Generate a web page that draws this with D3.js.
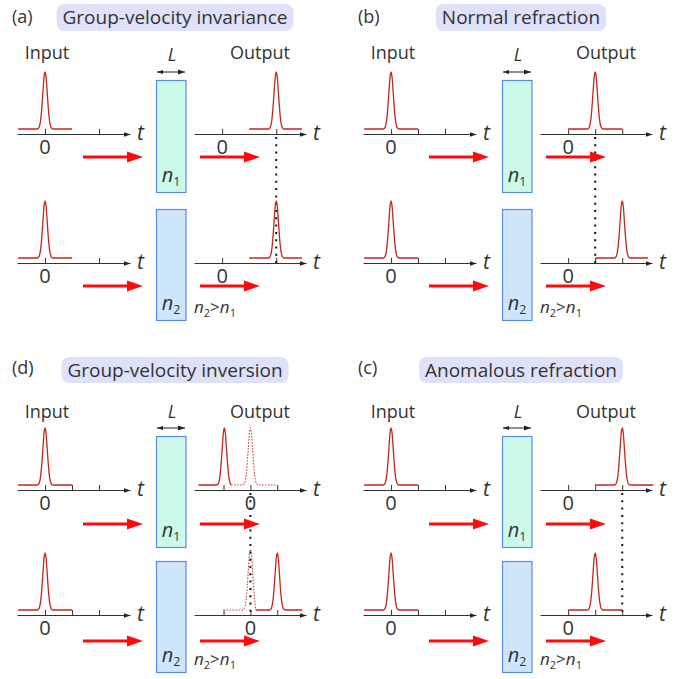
<!DOCTYPE html>
<html>
<head>
<meta charset="utf-8">
<script src="https://cdn.jsdelivr.net/npm/d3@7"></script>
<style>
  body { margin: 0; background: #fff; }
  text { font-family: "Open Sans", "Noto Sans", sans-serif; fill: #333; }
</style>
</head>
<body>
<script>
// ---- data ----
const panelIds = ["a", "b", "d", "c"];
const panelTitles = ["Group-velocity invariance", "Normal refraction", "Group-velocity inversion", "Anomalous refraction"];
const panelCol = [0, 1, 0, 1];
const panelRow = [0, 0, 1, 1];

// time axes (in tick units) : input / output extents and ticks
const inputExtent = [-1.04, 3.15];
const outputExtent = [[-1.04, 3.1], [-1.04, 3.1], [-2.1, 2.07], [-1.04, 3.1]];
const inputTicks = [[0, 2], [0, 1, 2], [0, 1, 2], [0, 1, 2]];
const outputTicks = [[0, 2], [0, 1, 2], [-1, 0, 1], [0, 1, 2]];

// output pulses, upper slab (n1) and lower slab (n2)
const outPulsesN1 = [
  [{c: 2, from: 1, to: 2.95}],
  [{c: 1, from: 0, to: 2}],
  [{c: -0.97, from: -1.93, to: -0.72}, {c: 0, from: -0.72, to: 0.95, dashed: true}],
  [{c: 2, from: 1, to: 3.15}]
];
const outPulsesN2 = [
  [{c: 2, from: 1, to: 2.95}],
  [{c: 2, from: 1, to: 2.95}],
  [{c: 0, from: -1, to: 0.2, dashed: true, amp: 1.06}, {c: 1, from: 0.2, to: 1.93}],
  [{c: 1, from: 0, to: 2}]
];
const inputPulse = {c: 0, from: -1, to: 1};
const markerT = [2, 1, 0, 2];

// pulse envelope samples (time offset, relative amplitude)
const pulseShape = [
  [-0.3, 0], [-0.25, 0.01], [-0.2, 0.06], [-0.16, 0.17], [-0.12, 0.37], [-0.08, 0.64], [-0.04, 0.9],
  [0, 1], [0.04, 0.9], [0.08, 0.64], [0.12, 0.37], [0.16, 0.17], [0.2, 0.06], [0.25, 0.01], [0.3, 0]
];

// ---- layout ----
const W = 695, H = 679;
const colX = [0, 346];
const rows = [
  {pill: [4, 31], title: 24, letter: 23, label: 59, L: 61, dbl: 72, axis: [134, 263], arrow: [157, 286], box: [[80, 192], [209, 320]]},
  {pill: [357, 383], title: 377, letter: 374, label: 418, L: 418, dbl: 428, axis: [490, 615], arrow: [524, 641], box: [[436, 547], [561, 672]]}
];
const pulseHeight = 57;
const pulseColor = "#c3261b";
const boxFill = ["#ccfaea", "#cde6fc"];

const svg = d3.select("body").append("svg")
  .attr("width", W)
  .attr("height", H);

const defs = svg.append("defs");
defs.append("marker")
  .attr("id", "axhead")
  .attr("viewBox", "0 0 10 10")
  .attr("refX", 10).attr("refY", 5)
  .attr("markerWidth", 7).attr("markerHeight", 7)
  .attr("markerUnits", "userSpaceOnUse")
  .attr("orient", "auto")
  .append("path").attr("d", "M0,1.5 L10,5 L0,8.5 Z").attr("fill", "#222");
defs.append("marker")
  .attr("id", "axtail")
  .attr("viewBox", "0 0 10 10")
  .attr("refX", 0).attr("refY", 5)
  .attr("markerWidth", 6).attr("markerHeight", 6)
  .attr("markerUnits", "userSpaceOnUse")
  .attr("orient", "auto")
  .append("path").attr("d", "M10,1.5 L0,5 L10,8.5 Z").attr("fill", "#222");

const pulseLine = d3.line().x(d => d[0]).y(d => d[1]).curve(d3.curveMonotoneX);

function pulsePoints(p) {
  const pts = [[p.from, 0]];
  pulseShape.forEach(([dt, a]) => {
    const t = p.c + dt;
    if (t > p.from && t < p.to) pts.push([t, a * (p.amp || 1)]);
  });
  pts.push([p.to, 0]);
  return pts;
}

function drawPulse(g, p, xs, axisY) {
  const ys = d3.scaleLinear().domain([0, 1]).range([axisY - 5, axisY - 5 - pulseHeight]);
  g.append("path")
    .attr("d", pulseLine(pulsePoints(p).map(d => [xs(d[0]), ys(d[1])])))
    .attr("fill", "none")
    .attr("stroke", p.dashed ? "#d2443a" : pulseColor)
    .attr("stroke-width", p.dashed ? 1.1 : 1.3)
    .attr("stroke-dasharray", p.dashed ? "1.6,1.4" : null);
}

function drawTimeAxis(g, xs, ticks, axisY) {
  const ax = g.append("g")
    .attr("transform", `translate(0,${axisY})`)
    .call(d3.axisTop(xs).tickValues(ticks).tickSize(5).tickSizeOuter(0).tickFormat(""));
  ax.select(".domain").attr("stroke", "#333").attr("stroke-width", 1.1).attr("marker-end", "url(#axhead)");
  ax.selectAll(".tick line").attr("stroke", "#333").attr("stroke-width", 1);
  const end = xs.range()[1];
  g.append("text")
    .attr("x", end + 7).attr("y", axisY + 6)
    .attr("font-size", 21).attr("font-style", "italic")
    .text("t");
  g.append("text")
    .attr("x", xs(0)).attr("y", axisY + 20)
    .attr("text-anchor", "middle")
    .attr("font-size", 20)
    .text("0");
}

function drawRedArrow(g, x1, x2, y) {
  g.append("line")
    .attr("x1", x1).attr("x2", x2 - 12).attr("y1", y).attr("y2", y)
    .attr("stroke", "#ff0a0a").attr("stroke-width", 3);
  g.append("path")
    .attr("d", `M${x2},${y} L${x2 - 16},${y - 5.5} L${x2 - 16},${y + 5.5} Z`)
    .attr("fill", "#ff0a0a");
}

function indexLabel(g, x, y, sub, size, anchor) {
  const t = g.append("text")
    .attr("x", x).attr("y", y)
    .attr("font-size", size)
    .attr("text-anchor", anchor || "start")
    .attr("fill", "#444");
  t.append("tspan").attr("font-style", "italic").text("n");
  t.append("tspan").attr("font-size", size * 0.62).attr("dy", 4).text(sub);
  return t;
}

panelIds.forEach((id, i) => {
  const x0 = colX[panelCol[i]];
  const r = rows[panelRow[i]];
  const g = svg.append("g").attr("class", "panel-" + id);

  // letter + title pill
  g.append("text")
    .attr("x", x0 + 12).attr("y", r.letter)
    .attr("font-size", 18)
    .text(`(${id})`);
  const pill = g.append("rect").attr("fill", "#dfe1f8");
  const title = g.append("text")
    .attr("x", x0 + 175).attr("y", r.title)
    .attr("text-anchor", "middle")
    .attr("font-size", 19)
    .text(panelTitles[i]);
  const bb = title.node().getBBox();
  pill.attr("x", bb.x - 6).attr("width", bb.width + 12)
    .attr("y", r.pill[0]).attr("height", r.pill[1] - r.pill[0])
    .attr("rx", 8);

  // headings
  g.append("text").attr("x", x0 + 47).attr("y", r.label)
    .attr("text-anchor", "middle").attr("font-size", 18).text("Input");
  g.append("text").attr("x", x0 + 260).attr("y", r.label)
    .attr("text-anchor", "middle").attr("font-size", 18).text("Output");
  g.append("text").attr("x", x0 + 172).attr("y", r.L)
    .attr("text-anchor", "middle").attr("font-size", 18).attr("font-style", "italic").text("L");
  g.append("line")
    .attr("x1", x0 + 157).attr("x2", x0 + 185).attr("y1", r.dbl).attr("y2", r.dbl)
    .attr("stroke", "#222").attr("stroke-width", 1)
    .attr("marker-end", "url(#axhead)").attr("marker-start", "url(#axtail)");

  // slabs
  r.box.forEach((b, k) => {
    g.append("rect")
      .attr("x", x0 + 156.5).attr("y", b[0] + 0.5)
      .attr("width", 29.5).attr("height", b[1] - b[0])
      .attr("fill", boxFill[k]).attr("stroke", "#5a8be4").attr("stroke-width", 1.2);
    indexLabel(g, x0 + 171, b[1] - 10, String(k + 1), 20, "middle");
  });
  const nl = g.append("text")
    .attr("x", x0 + 194).attr("y", r.box[1][1] - 7)
    .attr("font-size", 17).attr("fill", "#444");
  nl.append("tspan").attr("font-style", "italic").text("n");
  nl.append("tspan").attr("font-size", 11).attr("dy", 4).text("2");
  nl.append("tspan").attr("dy", -4).text(">");
  nl.append("tspan").attr("font-style", "italic").text("n");
  nl.append("tspan").attr("font-size", 11).attr("dy", 4).text("1");

  const xIn = d3.scaleLinear().domain(inputExtent).range([x0 + 17, x0 + 130]);
  const xOut = d3.scaleLinear().domain(outputExtent[i]).range([x0 + 194, x0 + 306]);

  // dotted reference line
  g.append("line")
    .attr("x1", xOut(markerT[i])).attr("x2", xOut(markerT[i]))
    .attr("y1", r.axis[0] + 3).attr("y2", r.axis[1])
    .attr("stroke", "#111").attr("stroke-width", 2)
    .attr("stroke-dasharray", "2,5.3");

  [outPulsesN1[i], outPulsesN2[i]].forEach((pulses, k) => {
    const ay = r.axis[k];
    drawTimeAxis(g, xIn, inputTicks[i], ay);
    drawTimeAxis(g, xOut, outputTicks[i], ay);
    drawPulse(g, inputPulse, xIn, ay);
    pulses.forEach(p => drawPulse(g, p, xOut, ay));
    drawRedArrow(g, x0 + 83, x0 + 143, r.arrow[k]);
    drawRedArrow(g, x0 + 200, x0 + 260, r.arrow[k]);
  });
});
</script>
</body>
</html>
